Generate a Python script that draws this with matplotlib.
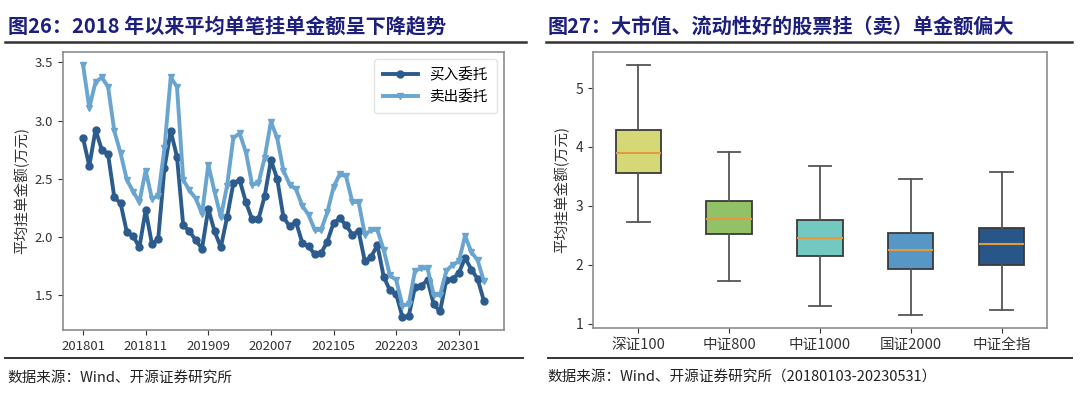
import matplotlib
matplotlib.use("Agg")
import matplotlib.pyplot as plt
from matplotlib.lines import Line2D

plt.rcParams['font.family'] = ['Noto Sans CJK SC', 'DejaVu Sans']
plt.rcParams['axes.unicode_minus'] = False

# ---- data: monthly average order size (10k yuan), 201801..202305
months = [f"{2018 + i // 12}{i % 12 + 1:02d}" for i in range(65)]
buy = [2.85, 2.61, 2.92, 2.75, 2.71, 2.34, 2.29, 2.04, 2.01, 1.91,
       2.23, 1.94, 1.98, 2.59, 2.91, 2.69, 2.10, 2.05, 1.97, 1.90,
       2.24, 2.05, 1.91, 2.17, 2.46, 2.49, 2.30, 2.15, 2.15, 2.35,
       2.66, 2.50, 2.17, 2.09, 2.13, 1.95, 1.92, 1.85, 1.86, 1.96,
       2.12, 2.16, 2.10, 2.02, 2.05, 1.79, 1.83, 1.93, 1.66, 1.54,
       1.51, 1.31, 1.32, 1.57, 1.58, 1.63, 1.42, 1.36, 1.63, 1.64,
       1.69, 1.82, 1.72, 1.64, 1.45]
sell = [3.48, 3.11, 3.33, 3.37, 3.29, 2.91, 2.72, 2.49, 2.39, 2.30,
        2.57, 2.33, 2.35, 2.76, 3.37, 3.29, 2.49, 2.40, 2.33, 2.20,
        2.62, 2.39, 2.17, 2.44, 2.85, 2.89, 2.73, 2.45, 2.46, 2.68,
        2.99, 2.85, 2.57, 2.45, 2.41, 2.27, 2.19, 2.06, 2.06, 2.21,
        2.43, 2.54, 2.52, 2.30, 2.30, 2.02, 2.06, 2.06, 1.89, 1.67,
        1.63, 1.41, 1.42, 1.71, 1.73, 1.73, 1.50, 1.50, 1.71, 1.76,
        1.79, 2.01, 1.87, 1.80, 1.62]

# ---- data: box plot stats per index
indices = ['深证100', '中证800', '中证1000', '国证2000', '中证全指']
whislo = [2.72, 1.73, 1.30, 1.14, 1.23]
q1 = [3.56, 2.53, 2.14, 1.92, 1.99]
med = [3.89, 2.78, 2.46, 2.25, 2.35]
q3 = [4.29, 3.08, 2.76, 2.54, 2.63]
whishi = [5.40, 3.92, 3.67, 3.46, 3.58]
box_colors = ['#d5d877', '#93c168', '#74c8c2', '#5697c6', '#285689']

title_color = '#1d1f7c'
spine_color = '#8c8c8c'

fig = plt.figure(figsize=(10.8, 3.97), dpi=100)

# ---------- left panel
ax1 = fig.add_axes([0.0583, 0.169, 0.4083, 0.700])
x = list(range(len(months)))
ax1.plot(x, buy, color='#2c5b8e', lw=2.8, marker='o', ms=5, label='买入委托')
ax1.plot(x, sell, color='#6aa5d0', lw=2.8, marker='v', ms=5, label='卖出委托')
ax1.set_xticks(x[::10])
ax1.set_xticklabels(months[::10])
ax1.set_yticks([1.5, 2.0, 2.5, 3.0, 3.5])
ax1.set_ylabel('平均挂单金额(万元)', fontsize=10.5, color='#333333')
ax1.legend(loc='upper right', fontsize=10.5, frameon=True, edgecolor='#dddddd',
           handlelength=2.4, borderpad=0.6)

# ---------- right panel
ax2 = fig.add_axes([0.549, 0.174, 0.4204, 0.695])
stats = []
for i, name in enumerate(indices):
    stats.append(dict(label=name, whislo=whislo[i], q1=q1[i], med=med[i],
                      q3=q3[i], whishi=whishi[i], fliers=[]))
bp = ax2.bxp(stats, positions=range(1, len(indices) + 1), widths=0.5,
             patch_artist=True, showfliers=False,
             boxprops=dict(edgecolor='#3a3a3a', linewidth=1.3),
             medianprops=dict(color='#e39a3b', linewidth=1.5),
             whiskerprops=dict(color='#555555', linewidth=1.3),
             capprops=dict(color='#555555', linewidth=1.3))
for patch, c in zip(bp['boxes'], box_colors):
    patch.set_facecolor(c)
ax2.set_xlim(0.5, len(indices) + 0.5)
ax2.set_yticks([1, 2, 3, 4, 5])
ax2.set_ylabel('平均挂单金额(万元)', fontsize=10.5, color='#333333')

for ax in (ax1, ax2):
    for s in ax.spines.values():
        s.set_color(spine_color)
        s.set_linewidth(1.2)
    ax.tick_params(labelsize=9.5, colors='#333333', length=3.5, width=0.8)
ax2.tick_params(axis='x', labelsize=10.5)
ax2.tick_params(axis='y', labelsize=10)

# ---------- titles, rules and sources
fig.text(0.007, 0.935, '图26：2018 年以来平均单笔挂单金额呈下降趋势', fontsize=14.5,
         fontweight='bold', color=title_color, va='center')
fig.text(0.507, 0.935, '图27：大市值、流动性好的股票挂（卖）单金额偏大', fontsize=14.5,
         fontweight='bold', color=title_color, va='center')
fig.add_artist(Line2D([0.005, 0.487], [0.893, 0.893], color='#333333', lw=1.8))
fig.add_artist(Line2D([0.506, 0.993], [0.893, 0.893], color='#333333', lw=1.8))
fig.add_artist(Line2D([0.005, 0.484], [0.098, 0.098], color='#333333', lw=1.4))
fig.add_artist(Line2D([0.507, 0.993], [0.098, 0.098], color='#333333', lw=1.4))
fig.text(0.007, 0.048, '数据来源：Wind、开源证券研究所', fontsize=10.5,
         color='#222222', va='center')
fig.text(0.507, 0.048, '数据来源：Wind、开源证券研究所（20180103-20230531）',
         fontsize=10.5, color='#222222', va='center')

fig.savefig('out.png', dpi=100)
